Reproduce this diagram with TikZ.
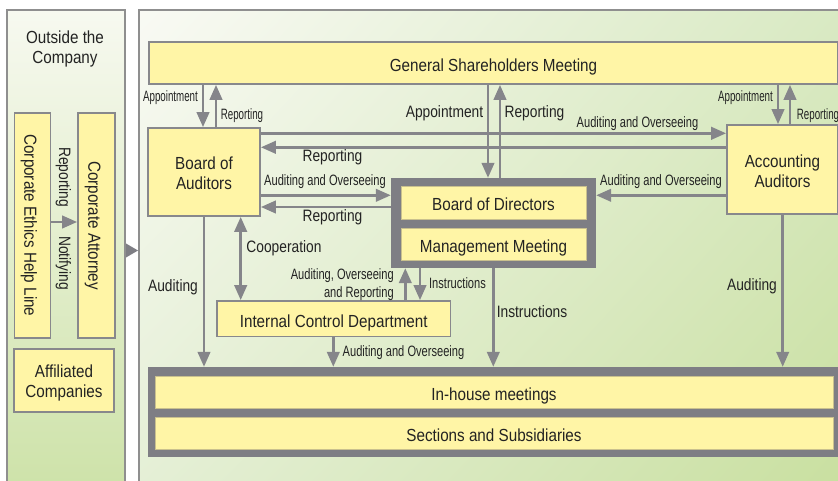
\documentclass[tikz,border=0pt]{standalone}
\usepackage{fontspec}
\setmainfont{Liberation Sans}
\newfontfamily\fbig{Liberation Sans}[FakeStretch=0.87]
\newfontfamily\fmid{Liberation Sans}[FakeStretch=0.835]
\newfontfamily\fsml{Liberation Sans}[FakeStretch=0.74]
\newfontfamily\ftny{Liberation Sans}[FakeStretch=0.65]
\usetikzlibrary{arrows.meta,shadings}
\definecolor{yel}{HTML}{FFF5A6}
\definecolor{boxgray}{HTML}{88888C}
\definecolor{framegray}{HTML}{7E7E84}
\definecolor{arrgray}{HTML}{85858A}
\definecolor{txt}{HTML}{232323}
\definecolor{panelgray}{HTML}{8F8F8F}
\definecolor{innerline}{HTML}{C9C08E}
\definecolor{otop}{HTML}{F7F9F0}
\definecolor{obot}{HTML}{CDE2A8}
\definecolor{mul}{HTML}{F9FAF4}
\definecolor{mur}{HTML}{D8E9C2}
\definecolor{mll}{HTML}{E4EFD5}
\definecolor{mlr}{HTML}{C8DF9E}
\tikzset{
  bigtext/.style={font=\fbig\fontsize{17.5}{20}\selectfont, text=txt, align=center},
  midtext/.style={font=\fmid\fontsize{16.5}{19}\selectfont, text=txt, inner sep=0pt},
  smltext/.style={font=\fsml\fontsize{15}{18}\selectfont, text=txt, inner sep=0pt},
  tnytext/.style={font=\ftny\fontsize{15}{17}\selectfont, text=txt, inner sep=0pt},
  oneline/.style={text height=16.5pt, text depth=0pt},
  ybox/.style={bigtext, draw=boxgray, line width=1.8pt, fill=yel, inner sep=0pt},
  ibox/.style={bigtext, oneline, draw=innerline, line width=0.8pt, fill=yel, inner sep=0pt},
  framebox/.style={fill=framegray, draw=none, inner sep=0pt},
  arr/.style={draw=arrgray, line width=2.6pt, -{Triangle[length=15pt,width=12.5pt]}},
  darr/.style={draw=arrgray, line width=2.6pt, {Triangle[length=15pt,width=12.5pt]}-{Triangle[length=15pt,width=12.5pt]}},
}
\begin{document}
\begin{tikzpicture}[x=1pt,y=-1pt]
\useasboundingbox (0,0) rectangle (838,481);
\clip (0,0) rectangle (838,481);
\fill[white] (0,0) rectangle (838,481);
% panels
\shade[top color=otop, bottom color=obot] (7,10) rectangle (125,495);
\draw[panelgray, line width=1.5pt] (7,495) -- (7,10) -- (125,10) -- (125,495);
\shade[upper left=mul, upper right=mur, lower left=mll, lower right=mlr] (139,10) rectangle (860,495);
\draw[panelgray, line width=1.5pt] (139,495) -- (139,10) -- (860,10);
\fill[framegray] (126,243.5) -- (138,250.5) -- (126,257.5) -- cycle;

% outside
\node[bigtext, inner sep=0pt] (outside) at (65,49) {Outside the\\Company};
\node[ybox, oneline, rotate=-90, minimum width=225pt, minimum height=36pt] (cehl) at (32.5,225.5) {Corporate Ethics Help Line};
\node[ybox, oneline, rotate=-90, minimum width=225pt, minimum height=37pt] (ca) at (96.5,225.5) {Corporate Attorney};
\node[ybox, minimum width=100pt, minimum height=63pt] (aff) at (64,380.5) {};
\node[bigtext, inner sep=0pt] (afft) at (64,383) {Affiliated\\Companies};
\draw[arr] ([yshift=3.5pt]cehl.north) -- ([yshift=3.5pt]ca.south);
\node[midtext, rotate=-90] (lrep) at (63.5,177) {Reporting};
\node[midtext, rotate=-90] (lnot) at (63.5,263) {Notifying};

% main boxes
\node[ybox, oneline, minimum width=689pt, minimum height=42pt] (gsm) at (493.5,63) {General Shareholders Meeting};
\node[ybox, minimum width=112pt, minimum height=88pt] (boa) at (204,172) {};
\node[bigtext, inner sep=0pt] (boat) at (204,173.5) {Board of\\Auditors};
\node[ybox, minimum width=111pt, minimum height=89pt] (aa) at (782.5,169.5) {};
\node[bigtext, inner sep=0pt] (aat) at (782.5,171.5) {Accounting\\Auditors};
\node[framebox, minimum width=205pt, minimum height=90pt] (bodf) at (493.5,223) {};
\node[ibox, minimum width=185pt, minimum height=33pt] (bod) at (493.5,202.5) {Board of Directors};
\node[ibox, minimum width=185pt, minimum height=32.5pt] (mm) at (493.5,244.2) {Management Meeting};
\node[ybox, oneline, minimum width=233.5pt, minimum height=35.5pt] (icd) at (333.75,318.75) {Internal Control Department};
\node[framebox, minimum width=692pt, minimum height=90pt] (ihf) at (494,412) {};
\node[ibox, minimum width=678pt, minimum height=32pt] (ih) at (494,392) {In-house meetings};
\node[ibox, minimum width=678pt, minimum height=32pt] (sec) at (494,433) {Sections and Subsidiaries};

% helper coordinates
\coordinate (c203) at (203,0);
\coordinate (c216) at (216,0);
\coordinate (c488) at (488,0);
\coordinate (c500) at (500,0);
\coordinate (c778) at (778,0);
\coordinate (c790) at (790,0);
\coordinate (c241) at (240.7,0);
\coordinate (c204) at (204,0);
\coordinate (c405) at (405.3,0);
\coordinate (c420) at (420,0);
\coordinate (c493) at (493.3,0);
\coordinate (c333) at (333.3,0);
\coordinate (c783) at (782.7,0);
\coordinate (r133) at (0,133.3);
\coordinate (r147) at (0,147.3);
\coordinate (r195) at (0,195.3);
\coordinate (r207) at (0,207);

% arrows
\draw[arr] (gsm.south -| c203) -- (boa.north -| c203);
\draw[arr] (boa.north -| c216) -- (gsm.south -| c216);
\draw[arr] (gsm.south -| c488) -- (bodf.north -| c488);
\draw[arr] (bodf.north -| c500) -- (gsm.south -| c500);
\draw[arr] (gsm.south -| c778) -- (aa.north -| c778);
\draw[arr] (aa.north -| c790) -- (gsm.south -| c790);
\draw[arr] (boa.east |- r133) -- (aa.west |- r133);
\draw[arr] (aa.west |- r147) -- (boa.east |- r147);
\draw[arr] (boa.east |- r195) -- (bodf.west |- r195);
\draw[arr] (bodf.west |- r207) -- (boa.east |- r207);
\draw[arr] (aa.west |- r195) -- (bodf.east |- r195);
\draw[darr] (boa.south -| c241) -- (icd.north -| c241);
\draw[arr] (boa.south -| c204) -- (ihf.north -| c204);
\draw[arr] (icd.north -| c405) -- (bodf.south -| c405);
\draw[arr] (bodf.south -| c420) -- (icd.north -| c420);
\draw[arr] (bodf.south -| c493) -- (ihf.north -| c493);
\draw[arr] (icd.south -| c333) -- (ihf.north -| c333);
\draw[arr] (aa.south -| c783) -- (ihf.north -| c783);

% labels
\node[tnytext] (l1) at (170.5,97.5) {Appointment};
\node[tnytext] (l2) at (242,116) {Reporting};
\node[midtext] (l3) at (444.5,113) {Appointment};
\node[midtext] (l4) at (534.5,113) {Reporting};
\node[tnytext] (l5) at (745.5,97.5) {Appointment};
\node[tnytext] (l6) at (818,115.5) {Reporting};
\node[smltext] (l7) at (637.5,124) {Auditing and Overseeing};
\node[midtext] (l8) at (332.5,157) {Reporting};
\node[smltext] (l9) at (325,182) {Auditing and Overseeing};
\node[midtext] (l10) at (332.5,217) {Reporting};
\node[smltext] (l11) at (661,182) {Auditing and Overseeing};
\node[midtext] (l12) at (284,248) {Cooperation};
\node[midtext] (l13) at (173,287) {Auditing};
\node[smltext, align=right, anchor=east] (l14) at (394,284.5) {Auditing, Overseeing\\and Reporting};
\node[smltext] (l15) at (457.5,283) {Instructions};
\node[midtext] (l16) at (532,312) {Instructions};
\node[smltext] (l17) at (403.5,353) {Auditing and Overseeing};
\node[midtext] (l18) at (752,286) {Auditing};
\end{tikzpicture}
\end{document}
